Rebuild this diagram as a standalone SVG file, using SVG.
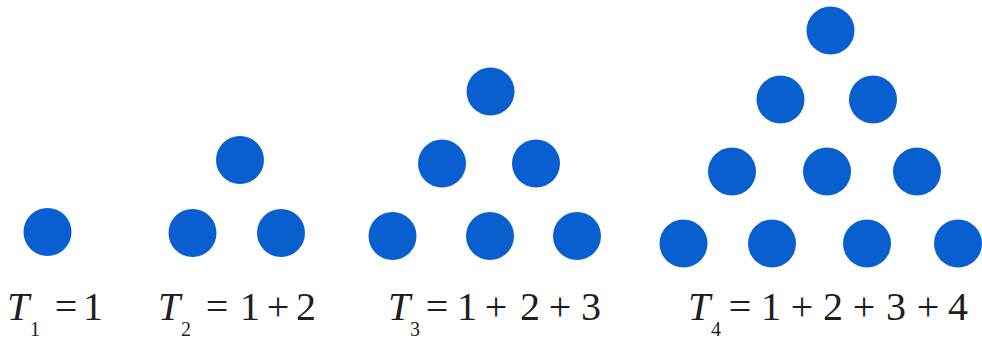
<svg xmlns="http://www.w3.org/2000/svg" width="982" height="341" viewBox="0 0 982 341">
<style>
.d{fill:#0a5fd0}
text{font-family:"Liberation Serif","Times New Roman","DejaVu Serif",serif;font-size:40px;fill:#1e1e1e;text-anchor:middle}
.i{font-style:italic}
.s{font-size:20px}
</style>
<rect width="982" height="341" fill="#fff"/>
<g id="t1">
<circle class="d" cx="47.5" cy="232" r="24"/>
</g>
<g id="t2">
<circle class="d" cx="240" cy="160" r="24"/>
<circle class="d" cx="192.5" cy="233" r="24"/>
<circle class="d" cx="281" cy="233" r="24"/>
</g>
<g id="t3">
<circle class="d" cx="490.5" cy="91.5" r="24"/>
<circle class="d" cx="442" cy="163.5" r="24"/>
<circle class="d" cx="536" cy="163.5" r="24"/>
<circle class="d" cx="392.5" cy="236" r="24"/>
<circle class="d" cx="490" cy="236" r="24"/>
<circle class="d" cx="577" cy="236" r="24"/>
</g>
<g id="t4">
<circle class="d" cx="830.5" cy="30.5" r="24"/>
<circle class="d" cx="780.5" cy="99.5" r="24"/>
<circle class="d" cx="873" cy="99.5" r="24"/>
<circle class="d" cx="732" cy="171.5" r="24"/>
<circle class="d" cx="827" cy="171.5" r="24"/>
<circle class="d" cx="917" cy="171.5" r="24"/>
<circle class="d" cx="683.5" cy="243.5" r="24"/>
<circle class="d" cx="772" cy="243.5" r="24"/>
<circle class="d" cx="867" cy="243.5" r="24"/>
<circle class="d" cx="958" cy="243.5" r="24"/>
</g>
<g id="labels">
<text y="320"><tspan class="i" x="18">T</tspan><tspan class="s" x="35" y="336">1</tspan><tspan x="66" y="320">=</tspan><tspan x="93">1</tspan></text>
<text y="320"><tspan class="i" x="169">T</tspan><tspan class="s" x="186" y="336">2</tspan><tspan x="217" y="320">=</tspan><tspan x="250">1</tspan><tspan x="278">+</tspan><tspan x="306">2</tspan></text>
<text y="320"><tspan class="i" x="399">T</tspan><tspan class="s" x="415" y="336">3</tspan><tspan x="437" y="320">=</tspan><tspan x="467">1</tspan><tspan x="496">+</tspan><tspan x="530">2</tspan><tspan x="560">+</tspan><tspan x="591">3</tspan></text>
<text y="320"><tspan class="i" x="699">T</tspan><tspan class="s" x="716" y="336">4</tspan><tspan x="740" y="320">=</tspan><tspan x="771">1</tspan><tspan x="802">+</tspan><tspan x="833">2</tspan><tspan x="864">+</tspan><tspan x="896">3</tspan><tspan x="928">+</tspan><tspan x="958">4</tspan></text>
</g>
</svg>
